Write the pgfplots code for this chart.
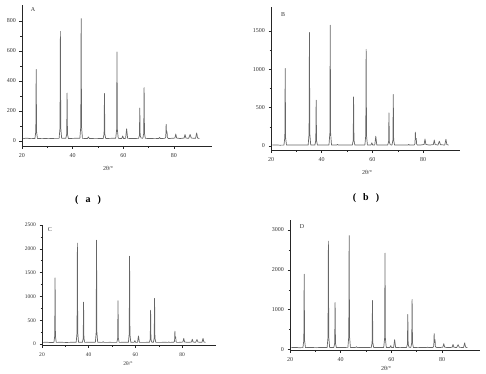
\documentclass[border=0pt]{standalone}
\usepackage{pgfplots}
\pgfplotsset{compat=1.18}
\usepackage{pgfplotstable}
\usepackage{fontspec}
\setmainfont{Liberation Serif}

\pgfplotstableread{
x      A    B    C    D
20.5   15   12   35   50
22     17   14   38   55
23.5   14   11   33   48
25.1   15   12   35   50
25.45  61   112  170  234
25.6   475  1010 1390 1890
25.75  61   112  170  234
26.1   15   12   35   50
28     16   13   37   52
30.5   14   12   34   49
33     16   14   37   54
34.65  16   13   36   52
35.0   86   159  243  317
35.15  730  1480 2120 2720
35.3   86   159  243  317
35.65  17   14   38   55
37.3   16   13   37   53
37.65  45   71   119  163
37.8   318  598  880  1180
37.95  45   71   119  163
38.3   15   12   35   50
40.5   16   14   38   54
42.85  17   14   39   56
43.2   95   168  249  331
43.35  815  1575 2180 2860
43.5   95   168  249  331
43.85  16   13   37   53
45.8   15   12   35   50
46.2   25   20   48   72
46.6   15   12   35   50
49     16   13   36   52
52.05  15   12   35   50
52.4   45   75   122  168
52.55  315  640  910  1230
52.7   45   75   122  168
53.05  15   12   35   50
55     16   13   37   53
57.0   17   14   38   55
57.35  73   137  216  287
57.5   592  1260 1845 2420
57.65  73   137  216  287
58.0   16   13   37   53
59.4   15   12   35   50
59.75  32   42   72   100
60.1   15   12   35   50
60.9   16   13   36   52
61.3   80   128  170  250
61.7   16   13   36   52
63.5   15   12   35   50
66.0   16   13   37   53
66.35  35   54   102  133
66.5   218  432  710  880
66.65  35   54   102  133
67.0   18   15   40   58
67.7   17   14   38   55
68.05  49   78   127  171
68.2   355  672  960  1260
68.35  49   78   127  171
68.7   16   13   36   52
70.5   15   12   35   50
72.5   16   13   37   52
74.0   15   12   35   50
74.3   22   20   45   62
74.6   15   12   35   50
76.4   16   13   37   53
76.75  25   30   60   90
76.9   110  180  270  400
77.05  50   80   120  180
77.25  60   100  150  250
77.4   22   25   50   80
77.75  15   12   35   50
79     16   13   36   52
80.35  18   20   43   60
80.7   45   92   120  150
81.05  18   20   43   60
82.5   15   12   35   50
84.0   18   19   42   58
84.35  42   78   100  130
84.7   18   19   42   58
85.8   16   13   36   52
86.35  42   62   95   125
86.8   18   17   41   58
88.5   16   13   36   52
88.95  52   88   120  170
89.3   18   20   44   62
90     15   12   35   50
}\xrd

\pgfplotsset{
  xrd/.style={
    scale only axis, anchor=south west,
    axis lines=left,
    axis line style={-, black!85, line width=0.6pt},
    tick align=outside,
    major tick length=2.5pt, minor tick length=1.5pt,
    tick style={black!85, line width=0.5pt},
    xmin=20, xtick={20,40,60,80}, minor x tick num=1, minor y tick num=1,
    ticklabel style={font=\fontsize{6}{7}\selectfont, text=black!80},
    xticklabel style={yshift=-1.5pt},
    /pgf/number format/assume math mode=true,
    /pgf/number format/1000 sep={},
    scaled y ticks=false,
    clip=false,
  },
  spec/.style={black!60, line width=0.7pt, mark=none, line join=round},
}

\begin{document}
\begin{tikzpicture}
\path[use as bounding box] (0pt,0pt) rectangle (486pt,373pt);

% Panel A
\begin{axis}[xrd, at={(22pt,227pt)}, width=190pt, height=141pt,
  xmax=95, ymin=-35, ymax=905, ytick={0,200,400,600,800}]
\addplot[spec] table[x=x, y=A] {\xrd};
\end{axis}

% Panel B
\begin{axis}[xrd, at={(271pt,223pt)}, width=189pt, height=143pt,
  xmax=94.5, ymin=-52, ymax=1812, ytick={0,500,1000,1500}]
\addplot[spec] table[x=x, y=B] {\xrd};
\end{axis}

% Panel C
\begin{axis}[xrd, at={(42pt,28pt)}, width=174pt, height=120pt,
  xmax=94.5, ymin=-20, ymax=2500, ytick={0,500,1000,1500,2000,2500},
  axis line style={-, black!85, line width=0.9pt},
  ticklabel style={font=\fontsize{5.5}{6}\selectfont, text=black!80}]
\addplot[spec] table[x=x, y=C] {\xrd};
\end{axis}

% Panel D
\begin{axis}[xrd, at={(290pt,23pt)}, width=190pt, height=130pt,
  xmax=95, ymin=-10, ymax=3250, ytick={0,1000,2000,3000},
  axis line style={-, black!85, line width=0.9pt}]
\addplot[spec] table[x=x, y=D] {\xrd};
\end{axis}

\begin{scope}[every node/.style={inner sep=0pt, text=black!80}]
\node[font=\fontsize{6}{7}\selectfont] at (33pt,363pt) {A};
\node[font=\fontsize{6}{7}\selectfont] at (283pt,358pt) {B};
\node[font=\fontsize{6}{7}\selectfont] at (50pt,143pt) {C};
\node[font=\fontsize{6}{7}\selectfont] at (302pt,146pt) {D};
\node[font=\fontsize{6}{7}\selectfont] at (108pt,205pt) {2θ/°};
\node[font=\fontsize{6}{7}\selectfont] at (367pt,201pt) {2θ/°};
\node[font=\fontsize{5.5}{6}\selectfont] at (128pt,9pt) {2θ/°};
\node[font=\fontsize{6}{7}\selectfont] at (386pt,5pt) {2θ/°};
\node[font=\fontsize{10}{10}\selectfont\bfseries, text=black] at (88pt,173pt) {(\hspace{7pt}a\hspace{7pt})};
\node[font=\fontsize{10}{10}\selectfont\bfseries, text=black] at (366pt,175pt) {(\hspace{7pt}b\hspace{7pt})};
\end{scope}
\end{tikzpicture}
\end{document}
